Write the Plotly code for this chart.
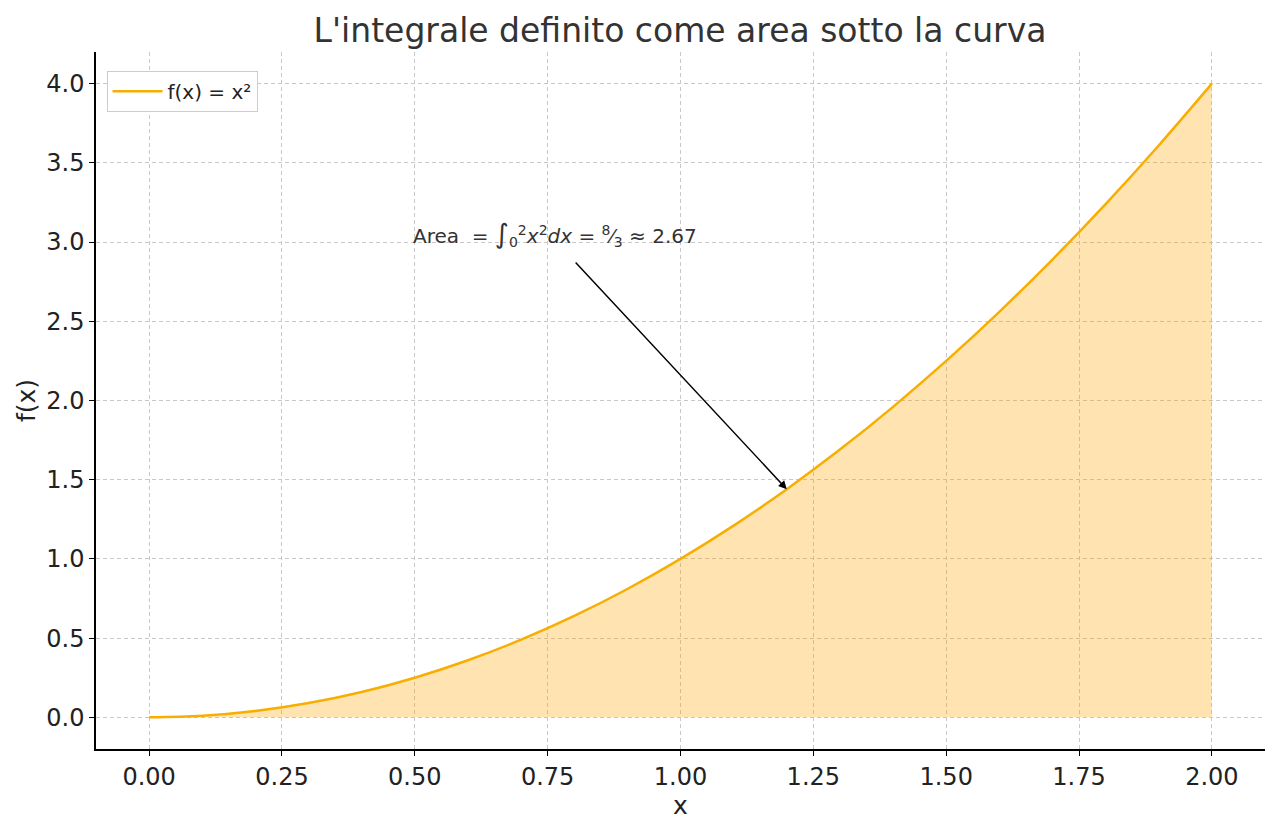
import plotly.graph_objects as go

# Values (f(x) = x^2 on [0, 2])
x_vals = [0.0, 0.1, 0.2, 0.3, 0.4, 0.5, 0.6, 0.7, 0.8, 0.9, 1.0,
          1.1, 1.2, 1.3, 1.4, 1.5, 1.6, 1.7, 1.8, 1.9, 2.0]
y_vals = [0.0, 0.01, 0.04, 0.09, 0.16, 0.25, 0.36, 0.49, 0.64, 0.81, 1.0,
          1.21, 1.44, 1.69, 1.96, 2.25, 2.56, 2.89, 3.24, 3.61, 4.0]

x_ticks = [0.0, 0.25, 0.5, 0.75, 1.0, 1.25, 1.5, 1.75, 2.0]
x_tick_labels = ["0.00", "0.25", "0.50", "0.75", "1.00", "1.25", "1.50", "1.75", "2.00"]
y_ticks = [0.0, 0.5, 1.0, 1.5, 2.0, 2.5, 3.0, 3.5, 4.0]
y_tick_labels = ["0.0", "0.5", "1.0", "1.5", "2.0", "2.5", "3.0", "3.5", "4.0"]

annot_text_pos = (0.5, 3.0)
arrow_tail = (0.8, 2.88)
arrow_head = (1.2, 1.44)

LINE = "#F8AE00"
FILL = "rgba(255,165,0,0.3)"
FONT = "DejaVu Sans"

fig = go.Figure()
fig.add_trace(go.Scatter(x=x_vals, y=y_vals, mode="lines", line=dict(width=0, shape="spline"),
                         fill="tozeroy", fillcolor=FILL, showlegend=False, hoverinfo="skip"))
fig.add_trace(go.Scatter(x=x_vals, y=y_vals, mode="lines", name="f(x) = x²",
                         line=dict(color=LINE, width=2.5, shape="spline")))

fig.add_annotation(x=annot_text_pos[0], y=annot_text_pos[1], xref="x", yref="y",
                   text=("Area  = <span style='font-size:27px'>∫</span><sub>0</sub><sup>2</sup>"
                         "<i>x</i><sup>2</sup><i>dx</i> = <sup>8</sup>⁄<sub>3</sub> ≈ 2.67"),
                   showarrow=False, xanchor="left", yanchor="bottom", xshift=-4, yshift=-10,
                   font=dict(family=FONT, size=20, color="#333333"))
fig.add_annotation(x=arrow_head[0], y=arrow_head[1], ax=arrow_tail[0], ay=arrow_tail[1],
                   xref="x", yref="y", axref="x", ayref="y", text="", showarrow=True,
                   arrowhead=2, arrowsize=1.1, arrowwidth=1.5, arrowcolor="black")

axis_common = dict(showgrid=True, gridcolor="#c8c8c8", griddash="4px,3px", gridwidth=1,
                   zeroline=False, showline=True, linecolor="black", linewidth=1.5,
                   ticks="outside", ticklen=5, tickwidth=1.2, tickcolor="black",
                   tickfont=dict(family=FONT, size=24, color="#222222"))

fig.update_xaxes(range=[-0.1, 2.1], tickvals=x_ticks, ticktext=x_tick_labels,
                 title=dict(text="x", font=dict(family=FONT, size=25, color="#222222"), standoff=0),
                 **axis_common)
fig.update_yaxes(range=[-0.2, 4.2], tickvals=y_ticks, ticktext=y_tick_labels,
                 title=dict(text="f(x)", font=dict(family=FONT, size=25, color="#222222"), standoff=4),
                 **axis_common)

fig.update_layout(
    width=1280, height=830,
    margin=dict(l=88, r=23, t=44, b=89),
    plot_bgcolor="white", paper_bgcolor="white",
    title=dict(text="L'integrale definito come area sotto la curva", x=0.525, xanchor="center",
               y=0.9735, yanchor="middle", font=dict(family=FONT, size=33, color="#333333")),
    legend=dict(x=0.009, y=0.973, xanchor="left", yanchor="top", bgcolor="white",
                bordercolor="#cccccc", borderwidth=1, itemwidth=50,
                font=dict(family=FONT, size=20, color="#222222")),
    showlegend=True,
)

fig.write_html("out.html")
